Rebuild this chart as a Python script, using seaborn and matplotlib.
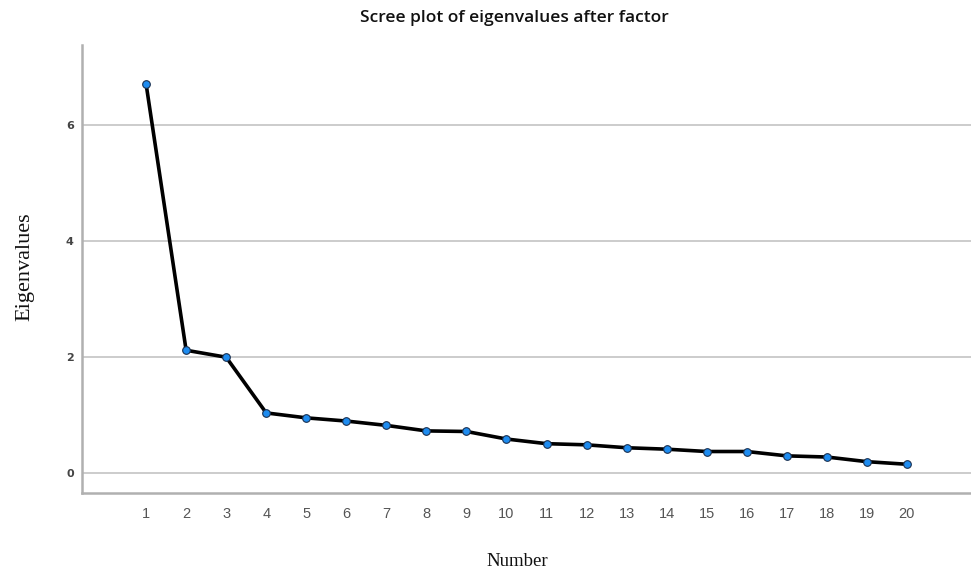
import matplotlib
matplotlib.use("Agg")
import matplotlib.pyplot as plt
import seaborn as sns
import pandas as pd

numbers = list(range(1, 21))
eigenvalues = [6.70, 2.11, 1.99, 1.03, 0.945, 0.89, 0.815, 0.72, 0.71, 0.58,
               0.50, 0.48, 0.43, 0.405, 0.365, 0.365, 0.29, 0.27, 0.19, 0.145]
y_ticks = [0, 2, 4, 6]

df = pd.DataFrame({"Number": numbers, "Eigenvalues": eigenvalues})

sns.set_theme(style="white")
fig = plt.figure(figsize=(9.71, 5.75), dpi=100)
ax = fig.add_axes([82/971, 1-493/575, 1-82/971, (493-45)/575])

ax.yaxis.grid(True, color="#c8c8c8", linewidth=1.3)
ax.set_axisbelow(True)

sns.lineplot(data=df, x="Number", y="Eigenvalues", ax=ax, color="black",
             linewidth=2.6, marker="o", markersize=5.5,
             markerfacecolor="#1e8cf0", markeredgecolor="#1a3050",
             markeredgewidth=0.8)

ax.set_xlim(-0.6, 21.6)
ax.set_ylim(-0.35, 7.37)
ax.set_xticks(numbers)
ax.set_xticklabels([str(n) for n in numbers], fontsize=10.5, color="#555555",
                   family="Liberation Sans")
ax.set_yticks(y_ticks)
ax.set_yticklabels([str(t) for t in y_ticks], fontsize=8, color="#444444",
                   fontweight="bold", family="DejaVu Sans")
ax.tick_params(axis="x", length=0, pad=10)
ax.tick_params(axis="y", length=0, pad=6)

for s in ["top", "right"]:
    ax.spines[s].set_visible(False)
for s in ["left", "bottom"]:
    ax.spines[s].set_color("#b0b0b0")
    ax.spines[s].set_linewidth(1.8)

ax.set_xlabel("")
ax.set_ylabel("")

fig.text(514/971, 1-18/575, "Scree plot of eigenvalues after factor",
         ha="center", va="center", fontsize=12.5, fontweight="semibold",
         family="Open Sans", color="#111111")
fig.text(25/971, 1-267/575, "Eigenvalues", rotation=90, ha="center",
         va="center", fontsize=16, family="Liberation Serif", color="#111111")
fig.text(517/971, 1-562/575, "Number", ha="center", va="center",
         fontsize=13.5, family="Liberation Serif", color="#111111")

fig.savefig("out.png", dpi=100)
